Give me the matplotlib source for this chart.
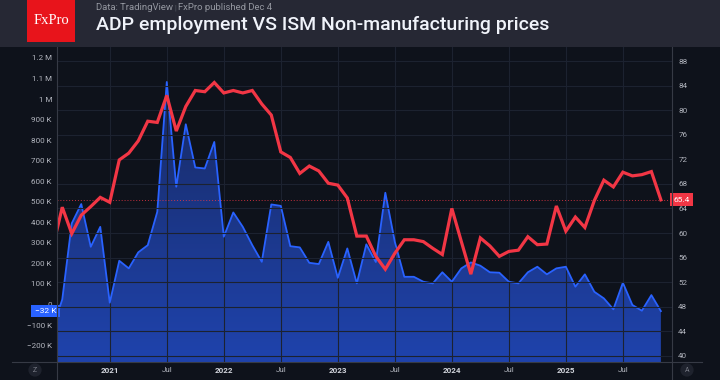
import numpy as np
import pandas as pd
import matplotlib
matplotlib.use("Agg")
import matplotlib.pyplot as plt
from matplotlib.lines import Line2D
from matplotlib.patches import Rectangle, Polygon
from matplotlib.colors import LinearSegmentedColormap

plt.rcParams['font.family'] = ['Roboto', 'DejaVu Sans']

# monthly data, Jul 2020 .. Nov 2025
months = pd.period_range("2020-07", "2025-11", freq="M")

# ADP employment change, thousands
adp_k = [
    -115, 25, 395, 489, 281, 378,
    9, 213, 176, 254, 289, 451, 1083, 573, 877, 667, 662, 791,
    330, 448, 378, 289, 208, 487, 480, 284, 278, 203, 197, 305,
    130, 273, 103, 293, 207, 544, 305, 135, 135, 111, 103, 157,
    111, 176, 205, 189, 157, 155, 111, 103, 157, 184, 147, 176,
    184, 87, 147, 62, 30, -23, 106, -2, -30, 46, -32,
]

# ISM services (non-manufacturing) prices index
ism_prices = [
    57.6, 64.2, 59.9, 62.9, 64.3, 65.8,
    65.0, 71.9, 73.0, 75.0, 78.2, 78.0, 82.4, 76.6, 80.6, 83.2, 83.0, 84.5,
    82.8, 83.2, 82.8, 83.2, 81.0, 79.2, 73.2, 72.3, 69.7, 70.9, 70.1, 68.1,
    67.8, 65.7, 59.5, 59.5, 56.2, 54.1, 56.7, 58.9, 58.9, 58.6, 57.5, 56.5,
    64.0, 58.6, 53.3, 59.2, 57.9, 56.2, 57.0, 57.2, 59.4, 58.1, 58.2, 64.4,
    60.3, 62.6, 60.9, 65.3, 68.6, 67.5, 69.9, 69.3, 69.5, 70.0, 65.4,
]

left_ticks = list(range(-200, 1201, 100))
right_ticks = list(range(40, 89, 4))

W, H = 720, 380
BG = "#0e121b"
HEADER = "#262834"
TXT = "#b2b5be"
GRID = "#1c2230"
BLUE = "#2962ff"
RED = "#f23645"
AXLINE = "#363a45"


def kfmt(v):
    if v == 0:
        return "0"
    if abs(v) >= 1000:
        s = f"{abs(v) / 1000:g} M"
    else:
        s = f"{abs(v)} K"
    return ("\u2212" if v < 0 else "") + s


fig = plt.figure(figsize=(W / 100, H / 100), dpi=100)
fig.patch.set_facecolor(BG)

# header band
fig.add_artist(Rectangle((0, 1 - 47 / H), 1, 47 / H, transform=fig.transFigure,
                         facecolor=HEADER, edgecolor="none", zorder=0))
fig.add_artist(Rectangle((27 / W, 1 - 42 / H), 48 / W, 42 / H, transform=fig.transFigure,
                         facecolor="#e8141b", edgecolor="none", zorder=1))
fig.text(51 / W, 1 - 21 / H, "FxPro", family="Liberation Serif", fontsize=10.5,
         color="white", ha="center", va="center")
fig.text(96 / W, 1 - 9.5 / H, "Data: TradingView", fontsize=6.8, color="#9598a1",
         va="baseline")
fig.text(174 / W, 1 - 9.5 / H, "|", fontsize=5.5, color="#5d606b", va="baseline")
fig.text(178 / W, 1 - 9.5 / H, "FxPro published Dec 4", fontsize=6.8, color="#9598a1",
         va="baseline")
fig.text(96 / W, 1 - 30.5 / H, "ADP employment VS ISM Non-manufacturing prices",
         fontsize=14.0, fontweight="medium", color="#f0f3fa", va="baseline")

# plot area
x0, x1, ytop, ybot = 57.5, 672, 47, 362
ax = fig.add_axes([x0 / W, (H - ybot) / H, (x1 - x0) / W, (ybot - ytop) / H])
ax.set_facecolor(BG)
ax2 = ax.twinx()

x = np.arange(len(months))
xlim = (0.5, 65.17)
ylim_l = (-279.5, 1253)
ylim_r = (39.0, 90.28)

# blue area with vertical gradient
grad = np.linspace(0, 1, 256).reshape(-1, 1)
cmap = LinearSegmentedColormap.from_list("fill", ["#1f43ad", "#17275a"])
im = ax.imshow(grad, cmap=cmap, extent=[xlim[0], xlim[1], ylim_l[0], ylim_l[1]],
               origin="lower", aspect="auto", zorder=1)
verts = np.column_stack([np.r_[x, x[-1], x[0]], np.r_[adp_k, ylim_l[0], ylim_l[0]]])
clip = Polygon(verts, closed=True, transform=ax.transData, facecolor="none", edgecolor="none")
ax.add_patch(clip)
im.set_clip_path(clip)
ax.plot(x, adp_k, color=BLUE, lw=1.3, zorder=3)

ax2.plot(x, ism_prices, color=RED, lw=2.3, zorder=3, solid_joinstyle="miter")
ax2.axhline(ism_prices[-1], color=RED, lw=0.7, ls=(0, (1, 2)), alpha=0.8)

# ticks (only the ones inside the visible range; set_xticks widens limits)
tick_pos = [i for i, m in enumerate(months) if m.month in (1, 7) and i >= xlim[0]]
tick_lab = [str(months[i].year) if months[i].month == 1 else "Jul" for i in tick_pos]
ax.set_xticks(tick_pos)
ax.set_xticklabels(tick_lab)
for t, lab in zip(ax.get_xticklabels(), tick_lab):
    if lab != "Jul":
        t.set_fontweight("bold")
        t.set_color("#d1d4dc")
    else:
        t.set_color(TXT)
ax.tick_params(axis="x", length=0, pad=3.5, labelsize=5.8)

ax.set_yticks(left_ticks)
ax.set_yticklabels([kfmt(v) for v in left_ticks])
ax.tick_params(axis="y", length=0, pad=4, labelsize=5.8, labelcolor=TXT)
ax2.set_yticks(right_ticks)
ax2.tick_params(axis="y", length=0, pad=4.5, labelsize=5.8, labelcolor=TXT)

ax.set_xlim(*xlim)
ax.set_ylim(*ylim_l)
ax2.set_ylim(*ylim_r)

ax.grid(axis="x", color=GRID, lw=0.8)
ax.grid(axis="y", visible=False)
ax2.grid(axis="y", color=GRID, lw=0.8)
for a in (ax, ax2):
    for s in a.spines.values():
        s.set_visible(False)

# last-value labels
ax.text(-0.002, adp_k[-1], kfmt(adp_k[-1]), transform=ax.get_yaxis_transform(),
        ha="right", va="center", fontsize=6, color="white", zorder=10, clip_on=False,
        bbox=dict(boxstyle="square,pad=0.4", fc=BLUE, ec="none"))
ax2.text(1.002, ism_prices[-1], f"{ism_prices[-1]:.1f}", transform=ax2.get_yaxis_transform(),
         ha="left", va="center", fontsize=6, color="white", zorder=10, clip_on=False,
         bbox=dict(boxstyle="square,pad=0.4", fc=RED, ec="none"))

# scale borders
fig.add_artist(Line2D([12 / W, 702 / W], [(H - ybot) / H] * 2, transform=fig.transFigure,
                      color=AXLINE, lw=0.8))
for px in (x0, x1):
    fig.add_artist(Line2D([px / W] * 2, [0, (H - ytop) / H], transform=fig.transFigure,
                          color=AXLINE, lw=0.8))
for px, ch in ((35, "Z"), (687, "A")):
    fig.text(px / W, 1 - 370 / H, ch, fontsize=5, color="#787b86", ha="center", va="center",
             bbox=dict(boxstyle="circle,pad=0.45", fc="#1e222d", ec="none"))

fig.savefig("out.png", dpi=100, facecolor=BG)
